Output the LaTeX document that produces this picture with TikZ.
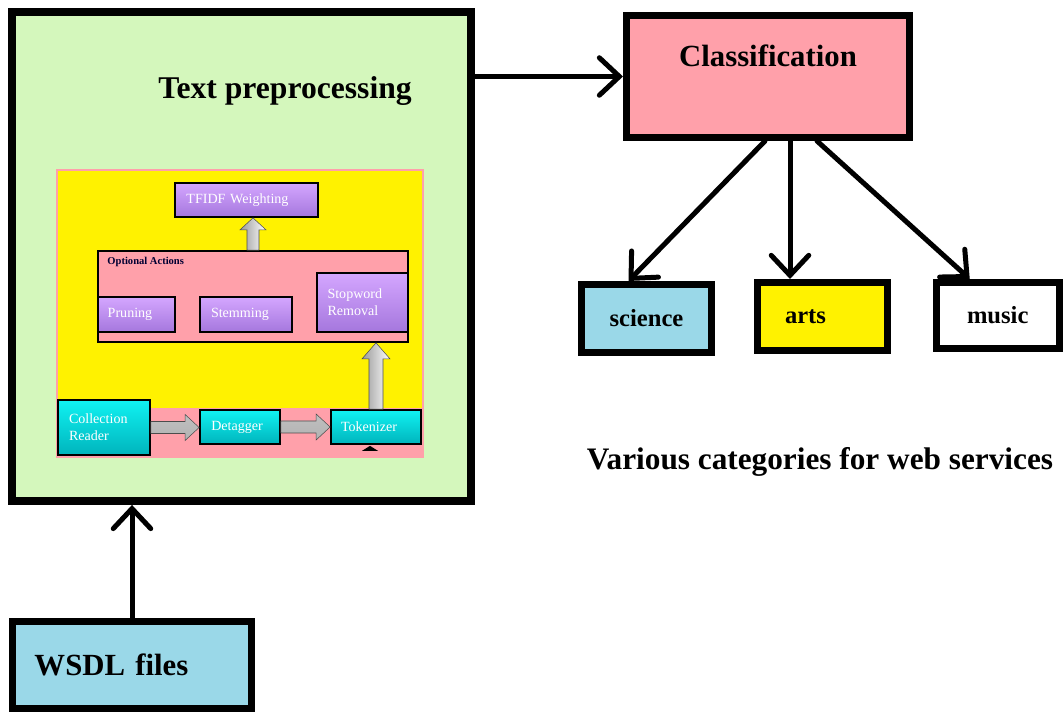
\documentclass[tikz,border=0pt]{standalone}
\usepackage{fontspec}
\setmainfont{Liberation Serif}
\usetikzlibrary{positioning, arrows.meta, calc}

\definecolor{greenbox}{HTML}{D4F7BC}
\definecolor{pinkbox}{HTML}{FFA0AA}
\definecolor{bluebox}{HTML}{9AD8E8}
\definecolor{yellowbox}{HTML}{FFF200}
\definecolor{purpletop}{HTML}{D4A6FF}
\definecolor{purplebot}{HTML}{A577DD}
\definecolor{cyantop}{HTML}{10F2F2}
\definecolor{cyanbot}{HTML}{00B4BC}

\begin{document}
\begin{tikzpicture}[x=0.2mm, y=-0.2mm,
    thickbox/.style={draw, line width=1.4mm, inner sep=0pt},
    thinbox/.style={draw, line width=0.35mm, inner sep=0pt, text=white, align=left,
      font=\fontsize{8}{9.5}\selectfont},
    purplebox/.style={thinbox, top color=purpletop, bottom color=purplebot},
    cyanbox/.style={thinbox, top color=cyantop, bottom color=cyanbot},
    bigtext/.style={font=\bfseries\fontsize{17.5}{20}\selectfont},
    cattext/.style={font=\bfseries\fontsize{14}{16}\selectfont},
    bigarrow/.style={line width=1mm, line cap=round, line join=round,
      -{Straight Barb[length=4mm,width=7.5mm,line cap=round]}},
    grayarrow/.style={draw=gray!60!black, line width=0.3pt},
  ]
  \useasboundingbox (0,0) rectangle (1063,713);

  % preprocessing block
  \node[thickbox, line width=1.6mm, fill=greenbox, minimum width=91.8mm, minimum height=97.7mm] (green) at (241.5,256.7) {};
  \node[font=\bfseries\fontsize{18}{21}\selectfont] (tplab) at (285,91) {Text preprocessing};
  \node[draw=pinkbox, line width=0.3mm, fill=yellowbox, minimum width=73.2mm, minimum height=57.4mm, inner sep=0pt] (inner) at (240,313.5) {};
  \fill[pinkbox] (57,408) rectangle (423,457);

  \node[purplebox, minimum width=28.6mm, minimum height=6.8mm, text width=24mm] (tf) at (246.5,200) {TFIDF Weighting};
  \node[thinbox, fill=pinkbox, minimum width=62mm, minimum height=18.2mm] (opt) at (253,296.5) {};
  \node[font=\bfseries\fontsize{6}{7}\selectfont, text=black!80!blue, anchor=west, inner sep=0pt] (optlab)
    at ($(opt.north west)+(10,12)$) {Optional Actions};
  \node[purplebox, minimum width=15.4mm, minimum height=7mm, text width=11.5mm] (prun) at (136.5,314.5) {Pruning};
  \node[purplebox, minimum width=18.4mm, minimum height=7mm, text width=14mm] (stem) at (246,314.5) {Stemming};
  \node[purplebox, minimum width=18.2mm, minimum height=11.8mm, text width=14mm] (stop) at (362.5,302.5) {Stopword\\Removal};
  \node[cyanbox, minimum width=18.4mm, minimum height=11mm, text width=14mm] (cr) at (104,427.5) {Collection\\Reader};
  \node[cyanbox, minimum width=16mm, minimum height=6.8mm, text width=11.5mm] (det) at (240,427) {Detagger};
  \node[cyanbox, minimum width=18mm, minimum height=6.8mm, text width=14mm] (tok) at (376,427) {Tokenizer};
  \fill ($(tok.south)+(-14,6)$) -- ($(tok.south)+(-6,1)$) -- ($(tok.south)+(2,6)$) -- cycle;

  % gray block arrows between the steps
  \coordinate (t1) at (cr.east -| det.west);
  \coordinate (t2) at (det.east -| tok.west);
  \coordinate (t3) at (tok.north |- opt.south);
  \coordinate (t4) at (opt.north |- tf.south);
  \path[grayarrow, top color=gray!50, middle color=white, bottom color=gray!60]
    ($(cr.east)+(0,-6)$) -- ($(t1)+(-14,-6)$) -- ($(t1)+(-14,-13)$) -- (t1)
    -- ($(t1)+(-14,13)$) -- ($(t1)+(-14,6)$) -- ($(cr.east)+(0,6)$) -- cycle;
  \path[grayarrow, top color=gray!50, middle color=white, bottom color=gray!60]
    ($(det.east)+(0,-6)$) -- ($(t2)+(-14,-6)$) -- ($(t2)+(-14,-13)$) -- (t2)
    -- ($(t2)+(-14,13)$) -- ($(t2)+(-14,6)$) -- ($(det.east)+(0,6)$) -- cycle;
  \path[grayarrow, left color=gray!80, right color=white]
    ($(tok.north)+(-7,0)$) -- ($(t3)+(-7,16)$) -- ($(t3)+(-14,16)$) -- (t3)
    -- ($(t3)+(14,16)$) -- ($(t3)+(7,16)$) -- ($(tok.north)+(7,0)$) -- cycle;
  \path[grayarrow, left color=gray!80, right color=white]
    ($(opt.north)+(-6,0)$) -- ($(t4)+(-6,12)$) -- ($(t4)+(-13,12)$) -- (t4)
    -- ($(t4)+(13,12)$) -- ($(t4)+(6,12)$) -- ($(opt.north)+(6,0)$) -- cycle;

  % classification and categories
  \node[thickbox, fill=pinkbox, minimum width=56.6mm, minimum height=24.4mm] (cls) at (768,76.5) {};
  \node[bigtext, below=5.4mm of cls.north] (clslab) {Classification};
  \node[thickbox, cattext, fill=bluebox, minimum width=26mm, minimum height=13.6mm] (sci) at (646.5,318.5) {science};
  \node[thickbox, cattext, fill=yellowbox, minimum width=26mm, minimum height=13.6mm, text width=15mm, align=left] (art) at (822.5,316.5) {arts};
  \node[thickbox, cattext, fill=white, minimum width=24.5mm, minimum height=13.2mm] (mus) at (997.75,315.5) {music};
  \node[font=\bfseries\fontsize{17.8}{20}\selectfont] (various) at (820,462) {Various categories for web services};

  \node[thickbox, bigtext, fill=bluebox, minimum width=47.8mm, minimum height=17.5mm, text width=39mm, align=left] (wsdl) at (132,665) {WSDL files};

  \coordinate (artfrom) at ($(cls.south)+(22,0)$);
  \draw[bigarrow] (green.east |- cls.west) -- (cls.west);
  \draw[bigarrow] ($(cls.south)+(-3,0)$) -- ($(sci.north)+(-18,0)$);
  \draw[bigarrow] (artfrom) -- (artfrom |- art.north);
  \draw[bigarrow] ($(cls.south)+(49,0)$) -- ($(mus.north)+(-28,0)$);
  \draw[bigarrow] (wsdl.north) -- (wsdl.north |- green.south);
\end{tikzpicture}
\end{document}
